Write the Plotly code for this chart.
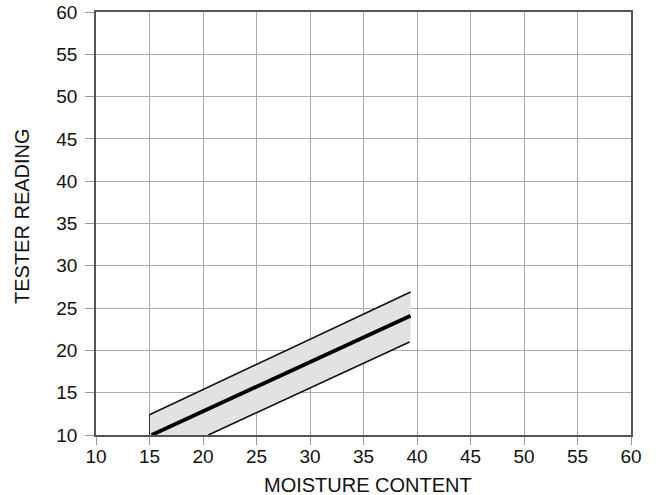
import plotly.graph_objects as go

# Data
upper_x = [15.0, 39.4]
upper_y = [12.4, 26.9]
mid_x = [15.2, 39.4]
mid_y = [10.0, 24.1]
lower_x = [20.5, 39.3]
lower_y = [10.0, 21.0]

x_ticks = [10, 15, 20, 25, 30, 35, 40, 45, 50, 55, 60]
y_ticks = [10, 15, 20, 25, 30, 35, 40, 45, 50, 55, 60]
x_title = "MOISTURE CONTENT"
y_title = "TESTER READING"

band_x = upper_x + [upper_x[-1]] + lower_x[::-1] + [upper_x[0]]
band_y = upper_y + [lower_y[-1]] + lower_y[::-1] + [lower_y[0]]

FONT = "Liberation Sans, Arial, Helvetica"
W, H = 656, 495
ML, MR, MT, MB = 96, 25, 12, 60

fig = go.Figure()
fig.add_trace(go.Scatter(x=band_x, y=band_y, fill="toself", mode="none",
                         fillcolor="#e2e2e2", hoverinfo="skip", showlegend=False))
# left edge of band
fig.add_trace(go.Scatter(x=[upper_x[0], upper_x[0]], y=[lower_y[0], upper_y[0]], mode="lines",
                         line=dict(color="#333", width=1.0), showlegend=False))
fig.add_trace(go.Scatter(x=upper_x, y=upper_y, mode="lines",
                         line=dict(color="#111", width=1.6), showlegend=False))
fig.add_trace(go.Scatter(x=lower_x, y=lower_y, mode="lines",
                         line=dict(color="#111", width=1.6), showlegend=False))
fig.add_trace(go.Scatter(x=mid_x, y=mid_y, mode="lines",
                         line=dict(color="#000", width=3.8), showlegend=False))

axis_common = dict(
    showgrid=True, gridcolor="#ababab", gridwidth=1,
    showline=True, linecolor="#555", linewidth=1.5, mirror=True,
    ticks="outside", tickcolor="#999", tickwidth=1,
    zeroline=False, automargin=False,
    tickfont=dict(family=FONT, size=19, color="#111"),
)

fig.update_layout(
    width=W, height=H,
    margin=dict(l=ML, r=MR, t=MT, b=MB),
    paper_bgcolor="white", plot_bgcolor="white",
    xaxis=dict(range=[10, 60], tickvals=x_ticks, ticklen=8, ticklabelstandoff=-5, **axis_common),
    yaxis=dict(range=[10, 60], tickvals=y_ticks, ticklen=9, ticklabelstandoff=4, **axis_common),
)

pw = W - ML - MR
ph = H - MT - MB
fig.add_annotation(text=x_title, xref="paper", yref="paper",
                   x=(368 - ML) / pw, y=-(485 - (H - MB)) / ph,
                   xanchor="center", yanchor="middle", showarrow=False,
                   font=dict(family=FONT, size=20, color="#111"))
fig.add_annotation(text=y_title, xref="paper", yref="paper",
                   x=-(ML - 22) / pw, y=((H - MB) - 216) / ph, textangle=-90,
                   xanchor="center", yanchor="middle", showarrow=False,
                   font=dict(family=FONT, size=20, color="#111"))

fig.write_html("out.html")
